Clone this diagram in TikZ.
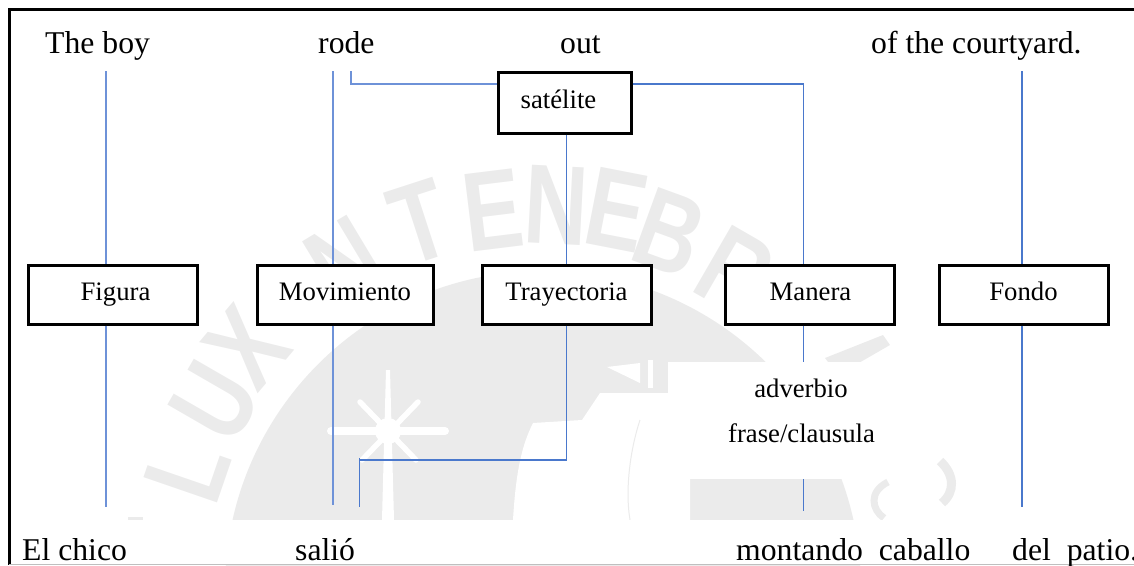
\documentclass[tikz,border=0pt]{standalone}
\usepackage{fontspec}
\setmainfont{Liberation Serif}
\newfontfamily\wmfont{Liberation Sans}
\definecolor{wmgray}{HTML}{EBEBEB}
\definecolor{linkblue}{HTML}{6E92D8}
\definecolor{thinblue}{HTML}{4A78CC}
\newcommand{\wmglyph}[1]{\scalebox{0.78}[1]{\bfseries #1}}
\tikzset{
  bigtext/.style={font=\fontsize{31.7}{36}\selectfont, inner sep=0pt, anchor=base west},
  smalltext/.style={font=\fontsize{26.7}{30}\selectfont, inner sep=0pt, anchor=base},
  conceptbox/.style={draw=black, line width=3pt, fill=white, inner sep=0pt, font=\fontsize{26.7}{30}\selectfont,
    text height=17pt, text depth=6pt, minimum height=59pt, align=center},
  wmletter/.style={font=\wmfont\fontsize{113}{113}\selectfont, text=wmgray, inner sep=0pt},
  link/.style={draw=linkblue, line width=1.6pt},
  thinlink/.style={draw=thinblue, line width=1.2pt}
}
\begin{document}
\begin{tikzpicture}[x=1pt,y=-1pt]
\useasboundingbox (0,0) rectangle (1134,565);
\clip (0,0) rectangle (1134,565);
% watermark
\fill[wmgray] (543,589) circle (318);
\node[wmletter,rotate=71] (wL) at (188,470) {\wmglyph{L}};
\node[wmletter,rotate=60] (wU) at (215,402) {\wmglyph{U}};
\node[wmletter,rotate=50] (wX) at (247,347) {\wmglyph{X}};
\node[wmletter,rotate=31] (wN) at (345,262) {\wmglyph{N}};
\node[wmletter,rotate=18] (wT) at (420,222) {\wmglyph{T}};
\node[wmletter,rotate=7] (wE) at (493,210) {\wmglyph{E}};
\node[wmletter,rotate=-3] (wNb) at (556,205) {\wmglyph{N}};
\node[wmletter,rotate=-11] (wEb) at (617,210) {\wmglyph{E}};
\node[wmletter,rotate=-20] (wB) at (670,233) {\wmglyph{B}};
\node[wmletter,rotate=-30] (wR) at (735,272) {\wmglyph{R}};
\fill[wmgray] (883,335) -- (890,345) -- (838,375) -- (825,358) -- cycle;
\fill[wmgray] (128,517) -- (143,517) -- (143,520) -- (128,520) -- cycle;
\fill[white] (513,520) .. controls (516,470) and (522,445) .. (533,423) -- (582,420) -- (600,393) -- (668,393) -- (668,479) -- (690,479) -- (690,520) -- cycle;
\draw[wmgray,line width=1pt] (640,420) .. controls (630,450) and (625,490) .. (630,520);
\fill[white] (607,367) -- (640,363) -- (640,383) -- cycle;
\fill[white] (648,360) -- (653,360) -- (653,388) -- (648,388) -- cycle;
% star
\fill[white] (386,370) -- (390,370) -- (394,520) -- (382,520) -- cycle;
\draw[white,line width=8pt,line cap=round] (331,431) -- (445,431);
\draw[white,line width=5.5pt,line cap=round] (360,402) -- (416,460);
\draw[white,line width=5.5pt,line cap=round] (418,402) -- (362,460);
\fill[white] (388,431) circle (13);
\fill[white] (668,362) rectangle (900,479);
\draw[wmgray,line width=7pt] (888,482) .. controls (868,492) and (872,510) .. (884,518);
\draw[wmgray,line width=9pt] (940,461) .. controls (955,475) and (955,492) .. (942,503);
\fill[white] (0,520) rectangle (1134,565);
% frame
\draw[black,line width=3pt] (1134,9) -- (9,9) -- (9,565);
\draw[black!25,line width=1pt] (9,564.5) -- (1134,564.5);
% top sentence
\node[bigtext] (t1) at (45,53) {The boy};
\node[bigtext] (t2) at (318,53) {rode};
\node[bigtext] (t3) at (560,53) {out};
\node[bigtext] (t4) at (871,53) {of the courtyard.};
% bottom sentence
\node[bigtext] (b1) at (22,560) {El chico};
\node[bigtext] (b2) at (295,560) {salió};
\node[bigtext] (b3) at (736,560) {montando\ \ caballo};
\node[bigtext] (b4) at (1012,560) {del\ \ patio.};
% boxes
\node[conceptbox,minimum width=169pt] (figura) at (112.5,294.5) {\hspace*{6pt}Figura};
\node[conceptbox,minimum width=176pt] (mov) at (345,294.5) {Movimiento};
\node[conceptbox,minimum width=169pt] (tray) at (566.5,294.5) {Trayectoria};
\node[conceptbox,minimum width=169pt] (man) at (809.5,294.5) {\hspace*{2pt}Manera};
\node[conceptbox,minimum width=169pt] (fondo) at (1023.5,294.5) {Fondo};
\node[conceptbox,minimum width=133pt,minimum height=61pt] (sat) at (564.5,102.5) {\hspace*{-12pt}satélite};
% free ends
\coordinate (a1) at (106,71);
\coordinate (a2) at (106,507);
\coordinate (c1) at (333,71);
\coordinate (c2) at (333,505);
\coordinate (r1) at (351,71);
\coordinate (r2) at (351,84);
\coordinate (m1) at (803.5,84);
\coordinate (m2) at (803.5,362);
\coordinate (m3) at (803.5,479);
\coordinate (m4) at (803.5,511);
\coordinate (f1) at (1022,71);
\coordinate (f2) at (1022,507);
\coordinate (y1) at (566.8,460);
\coordinate (s1) at (359.5,458);
\coordinate (s2) at (359.5,507);
% connectors
\draw[link] (a1) -- (a1 |- figura.north);
\draw[link] (a1 |- figura.south) -- (a2);
\draw[link] (c1) -- (c1 |- mov.north);
\draw[link] (c1 |- mov.south) -- (c2);
\draw[link] (r1) -- (r2) -- (r2 -| sat.west);
\draw[thinlink] (r2 -| sat.east) -- (m1) -- (m1 |- man.north);
\draw[thinlink] (m1 |- man.south) -- (m2);
\draw[thinlink] (m3) -- (m4);
\draw[thinlink] (f1) -- (f1 |- fondo.north);
\draw[thinlink] (f1 |- fondo.south) -- (f2);
\draw[thinlink] (y1 |- sat.south) -- (y1 |- tray.north);
\draw[thinlink] (y1 |- tray.south) -- (y1) -- (y1 -| s1);
\draw[thinlink] (s1) -- (s2);
% manner labels
\node[smalltext] (adv) at (801,397) {adverbio};
\node[smalltext] (fra) at (801.5,442) {frase/clausula};
\end{tikzpicture}
\end{document}
